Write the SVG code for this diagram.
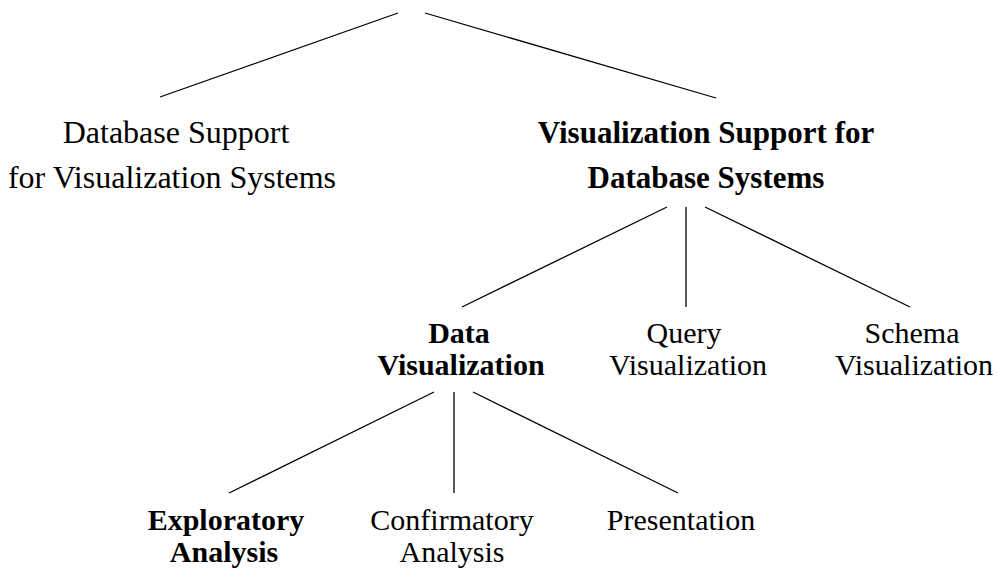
<svg xmlns="http://www.w3.org/2000/svg" width="999" height="570" viewBox="0 0 999 570">
<style>
text{font-family:"Liberation Serif","Times New Roman",serif;fill:#000;text-anchor:middle}
.t{font-size:32px}
.tb{font-size:31px;font-weight:bold}
.m{font-size:30px}
.mb{font-size:30px;font-weight:bold}
#connectors line{stroke:#000;stroke-width:1.3;fill:none}
</style>
<rect width="999" height="570" fill="#fff"/>
<g id="connectors">
<line x1="398" y1="13" x2="160" y2="97"/>
<line x1="425" y1="13" x2="716" y2="98"/>
<line x1="667" y1="207" x2="462" y2="307"/>
<line x1="686" y1="207" x2="686" y2="307"/>
<line x1="705" y1="207" x2="910" y2="307"/>
<line x1="434" y1="392" x2="229" y2="493"/>
<line x1="454" y1="392" x2="454" y2="493"/>
<line x1="473" y1="392" x2="678" y2="493"/>
</g>
<g id="db-support">
<text class="t" x="176" y="143">Database Support</text>
<text class="t" x="172" y="188">for Visualization Systems</text>
</g>
<g id="vis-support">
<text class="tb" x="706" y="143">Visualization Support for</text>
<text class="tb" x="706" y="188">Database Systems</text>
</g>
<g id="data-vis">
<text class="mb" x="459" y="343">Data</text>
<text class="mb" x="461" y="375">Visualization</text>
</g>
<g id="query-vis">
<text class="m" x="684" y="343">Query</text>
<text class="m" x="688" y="375">Visualization</text>
</g>
<g id="schema-vis">
<text class="m" x="912" y="343">Schema</text>
<text class="m" x="914" y="375">Visualization</text>
</g>
<g id="exploratory">
<text class="mb" x="226" y="530">Exploratory</text>
<text class="mb" x="224" y="562">Analysis</text>
</g>
<g id="confirmatory">
<text class="m" x="452" y="530">Confirmatory</text>
<text class="m" x="452" y="562">Analysis</text>
</g>
<g id="presentation">
<text class="m" x="681" y="530">Presentation</text>
</g>
</svg>
